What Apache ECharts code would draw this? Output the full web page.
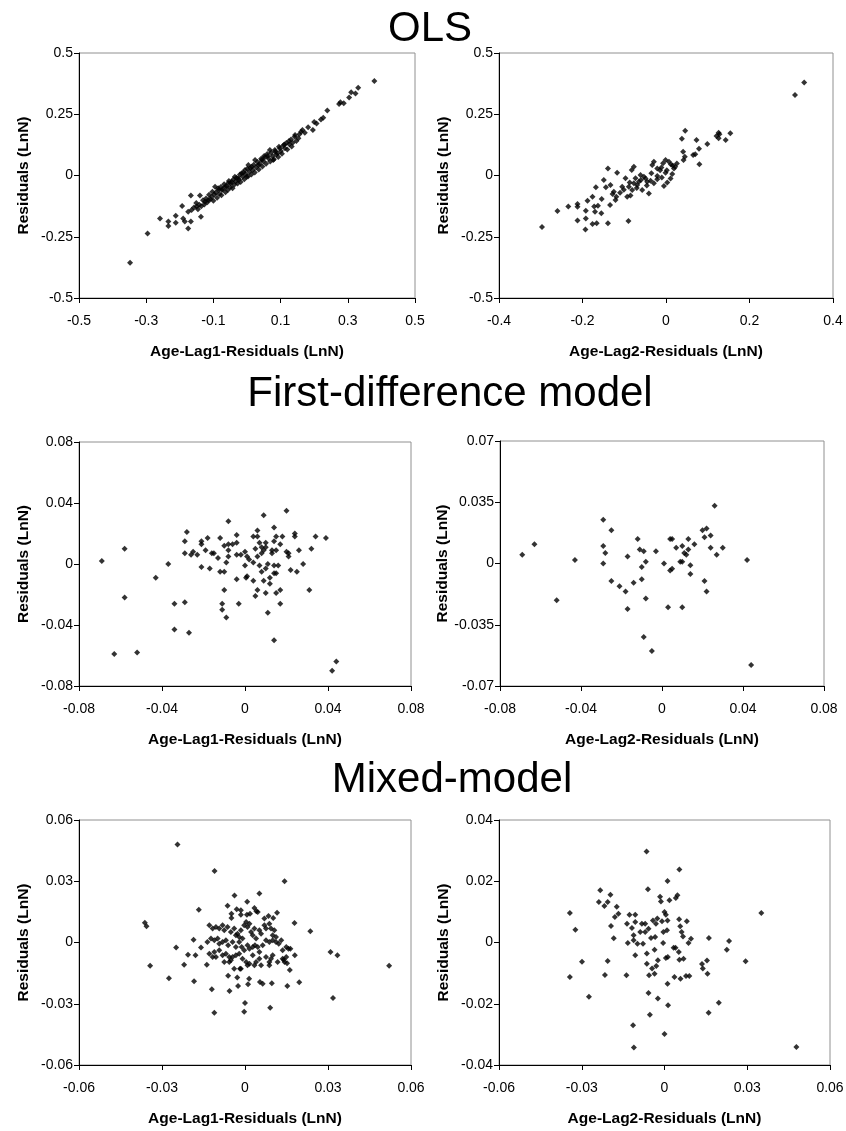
<!DOCTYPE html>
<html>
<head>
<meta charset="utf-8">
<title>Residual plots</title>
<script src="https://cdn.jsdelivr.net/npm/echarts@6/dist/echarts.min.js"></script>
<style>
  html, body { margin: 0; padding: 0; background: #fff; }
  #chart { width: 846px; height: 1131px; }
</style>
</head>
<body>
<div id="chart"></div>
<script>
var panelTitles = ["OLS", "First-difference model", "Mixed-model"];
var xNames = ["Age-Lag1-Residuals (LnN)", "Age-Lag2-Residuals (LnN)"];
var yName = "Residuals (LnN)";

// [min, max, interval] for each of the six panels
var xScales = [[-0.5, 0.5, 0.2], [-0.4, 0.4, 0.2], [-0.08, 0.08, 0.04], [-0.08, 0.08, 0.04], [-0.06, 0.06, 0.03], [-0.06, 0.06, 0.03]];
var yScales = [[-0.5, 0.5, 0.25], [-0.5, 0.5, 0.25], [-0.08, 0.08, 0.04], [-0.07, 0.07, 0.035], [-0.06, 0.06, 0.03], [-0.04, 0.04, 0.02]];

// OLS, lag 1
var olsLag1 = [
  [0.379,0.386],[0.331,0.358],[0.323,0.335],[0.310,0.340],[0.304,0.318],[0.288,0.295],[0.274,0.292],[0.278,0.299],
  [0.239,0.265],[0.227,0.236],[0.220,0.229],[0.200,0.218],[0.196,0.186],[0.165,0.186],[0.161,0.179],[0.153,0.152],
  [0.143,0.165],[0.125,0.141],[0.133,0.118],[0.111,0.127],[0.098,0.111],[0.091,0.091],[0.083,0.104],[0.078,0.063],
  [0.068,0.104],[0.062,0.080],[0.051,0.080],[0.044,0.063],[0.034,0.043],[0.024,0.063],[0.014,0.036],[0.004,0.043],
  [-0.006,0.022],[-0.001,-0.005],[-0.016,0.009],[-0.026,-0.011],[-0.036,-0.005],[-0.046,-0.025],[-0.056,-0.032],
  [-0.065,-0.046],[-0.075,-0.059],[-0.085,-0.059],[-0.095,-0.046],[-0.105,-0.087],[-0.115,-0.100],[-0.125,-0.107],
  [-0.140,-0.082],[-0.150,-0.127],[-0.167,-0.082],[-0.165,-0.141],[-0.175,-0.148],[-0.193,-0.124],[-0.190,-0.175],
  [-0.185,-0.188],[-0.175,-0.216],[-0.167,-0.188],[-0.212,-0.164],[-0.212,-0.193],[-0.234,-0.188],[-0.234,-0.206],
  [-0.137,-0.168],[-0.296,-0.237],[-0.259,-0.175],[-0.348,-0.356],
  [-0.158,-0.131],[-0.151,-0.112],[-0.146,-0.138],[-0.142,-0.119],[-0.136,-0.126],[-0.131,-0.101],[-0.127,-0.118],
  [-0.122,-0.094],[-0.118,-0.109],[-0.113,-0.079],[-0.109,-0.097],[-0.103,-0.066],[-0.100,-0.103],[-0.097,-0.078],
  [-0.093,-0.069],[-0.089,-0.091],[-0.086,-0.052],[-0.082,-0.075],[-0.078,-0.047],[-0.076,-0.081],[-0.072,-0.057],
  [-0.068,-0.036],[-0.064,-0.068],[-0.061,-0.044],[-0.057,-0.059],[-0.054,-0.022],[-0.050,-0.048],[-0.048,-0.033],
  [-0.043,-0.052],[-0.041,-0.016],[-0.038,-0.038],[-0.034,-0.024],[-0.031,-0.009],[-0.028,-0.033],[-0.024,-0.017],
  [-0.021,0.004],[-0.019,-0.027],[-0.013,-0.004],[-0.011,0.012],[-0.008,-0.015],[-0.004,0.006],[0.001,0.028],
  [0.003,-0.004],[0.007,0.015],[0.010,0.031],[0.013,0.004],[0.017,0.022],[0.020,0.044],[0.023,0.012],[0.027,0.034],
  [0.031,0.055],[0.035,0.024],[0.038,0.047],[0.042,0.068],[0.046,0.037],[0.049,0.058],[0.053,0.074],[0.057,0.048],
  [0.060,0.088],[0.064,0.069],[0.069,0.057],[0.072,0.093],[0.076,0.079],[0.080,0.066],[0.084,0.098],[0.087,0.086],
  [0.093,0.076],[0.095,0.117],[0.101,0.100],[0.104,0.089],[0.108,0.122],[0.113,0.111],[0.117,0.133],[0.120,0.106],
  [0.126,0.128],[0.131,0.147],[0.136,0.134],[0.142,0.158],[0.147,0.141],[0.156,0.168],[0.172,0.175],[0.182,0.197],
  [0.207,0.212]
];

// OLS, lag 2
var olsLag2 = [
  [0.331,0.380],[0.309,0.329],[0.154,0.172],[0.143,0.145],[0.126,0.175],[0.121,0.161],[0.126,0.152],[0.099,0.129],
  [0.079,0.109],[0.080,0.046],[0.073,0.145],[0.070,0.087],[0.065,0.084],[0.046,0.183],[0.038,0.150],[0.041,0.097],
  [0.045,0.077],[0.042,0.063],[0.022,0.036],[0.019,0.029],[0.007,0.056],[-0.001,0.063],[-0.007,0.050],[-0.011,0.033],
  [-0.021,0.029],[-0.029,0.056],[-0.033,0.043],[0.015,0.006],[0.011,-0.012],[0.003,-0.029],[-0.005,-0.043],
  [-0.001,0.011],[-0.021,-0.002],[-0.021,-0.015],[-0.029,-0.032],[-0.037,-0.021],[-0.041,-0.073],[-0.045,-0.025],
  [-0.053,-0.005],[-0.057,-0.059],[-0.061,0.002],[-0.065,-0.025],[-0.069,-0.039],[-0.073,-0.011],[-0.077,-0.032],
  [-0.081,-0.059],[-0.085,-0.082],[-0.089,-0.046],[-0.093,-0.087],[-0.097,-0.011],[-0.077,0.036],[-0.082,0.022],
  [-0.105,-0.046],[-0.110,-0.070],[-0.117,0.011],[-0.121,-0.100],[-0.119,-0.087],[-0.125,-0.066],[-0.128,-0.075],
  [-0.133,-0.039],[-0.134,-0.120],[-0.139,0.029],[-0.144,-0.048],[-0.149,-0.018],[-0.154,-0.096],[-0.155,-0.154],
  [-0.163,-0.123],[-0.168,-0.048],[-0.170,-0.148],[-0.172,-0.127],[-0.166,-0.195],[-0.176,-0.087],[-0.176,-0.198],
  [-0.188,-0.103],[-0.192,-0.144],[-0.192,-0.175],[-0.193,-0.220],[-0.212,-0.116],[-0.212,-0.128],[-0.212,-0.184],
  [-0.234,-0.127],[-0.260,-0.145],[-0.297,-0.210],[-0.139,-0.195],[-0.090,-0.186],
  [-0.060,-0.018],[-0.049,-0.012],[-0.046,-0.041],[-0.014,0.021],[-0.010,-0.008],[0.016,0.041],[0.026,0.049],
  [-0.101,-0.058],[-0.087,-0.029],[-0.070,-0.051],[-0.035,0.009],[0.002,0.021],[0.012,0.045],[0.128,0.168]
];

// First-difference model, lag 1
var fdLag1 = [
  [-0.069,0.002],[-0.058,0.010],[-0.058,-0.022],[-0.063,-0.059],[-0.052,-0.058],[-0.043,-0.009],[-0.037,0.000],
  [-0.034,-0.026],[-0.029,-0.025],[-0.034,-0.043],[-0.027,-0.045],[-0.029,0.015],[-0.028,0.021],[-0.029,0.007],
  [-0.026,0.006],[-0.025,0.008],[-0.023,0.006],[-0.021,0.015],[-0.021,0.013],[-0.021,-0.002],[-0.019,0.009],
  [-0.018,0.017],[-0.017,-0.003],[-0.016,0.007],[-0.015,0.007],[-0.013,0.004],[-0.012,0.017],[-0.012,-0.005],
  [-0.010,0.012],[-0.010,-0.005],[-0.010,-0.017],[-0.011,-0.026],[-0.011,-0.030],[-0.009,-0.035],[-0.009,0.001],
  [-0.008,0.005],[-0.008,0.028],[-0.008,0.009],[-0.008,0.013],[-0.006,0.013],[-0.004,-0.010],[-0.004,0.019],
  [-0.004,0.014],[-0.004,0.006],[-0.003,-0.026],[-0.002,0.006],[0.000,-0.001],[0.000,0.008],[0.0005,-0.009],
  [0.001,0.005],[0.001,-0.008],[0.002,0.003],[0.004,0.018],[0.004,-0.011],[0.004,0.001],[0.005,0.010],
  [0.005,-0.021],[0.006,0.022],[0.006,0.005],[0.006,-0.017],[0.006,0.018],[0.007,0.014],[0.007,-0.001],
  [0.008,0.011],[0.008,0.007],[0.008,-0.005],[0.009,0.032],[0.009,0.009],[0.009,-0.011],[0.010,0.011],
  [0.010,0.014],[0.010,-0.003],[0.010,-0.019],[0.011,0.000],[0.011,-0.032],[0.012,-0.009],[0.012,-0.013],
  [0.013,0.007],[0.013,0.009],[0.014,0.015],[0.014,-0.006],[0.014,0.024],[0.014,-0.001],[0.014,-0.050],
  [0.015,-0.019],[0.015,0.009],[0.015,-0.006],[0.015,0.018],[0.016,-0.001],[0.017,0.013],[0.017,-0.017],
  [0.017,-0.026],[0.018,0.018],[0.020,0.035],[0.020,0.008],[0.021,0.007],[0.021,0.005],[0.022,-0.004],
  [0.024,0.020],[0.024,0.018],[0.025,-0.005],[0.026,0.009],[0.028,0.000],[0.031,-0.017],[0.032,0.010],
  [0.034,0.018],[0.039,0.017],[0.042,-0.070],[0.044,-0.064]
];

// First-difference model, lag 2
var fdLag2 = [
  [-0.069,0.005],[-0.063,0.011],[-0.052,-0.021],[-0.043,0.002],[-0.029,0.025],[-0.025,0.019],[-0.029,0.010],
  [-0.028,0.006],[-0.029,0.000],[-0.025,-0.010],[-0.021,-0.013],[-0.018,-0.016],[-0.017,-0.026],[-0.017,0.004],
  [-0.014,-0.011],[-0.012,0.014],[-0.011,0.008],[-0.010,-0.009],[-0.010,-0.002],[-0.009,0.007],[-0.008,-0.020],
  [-0.008,0.001],[-0.009,-0.042],[-0.005,-0.050],[-0.003,0.007],[0.001,0.000],[0.003,-0.025],[0.004,-0.004],
  [0.004,0.014],[0.005,0.014],[0.005,-0.003],[0.007,0.009],[0.010,0.001],[0.010,0.010],[0.010,-0.025],
  [0.011,0.006],[0.012,0.005],[0.013,0.014],[0.013,0.008],[0.014,-0.001],[0.014,-0.006],[0.016,0.011],
  [0.020,0.019],[0.022,0.020],[0.021,0.015],[0.021,-0.010],[0.022,-0.016],[0.024,0.009],[0.024,0.016],
  [0.026,0.033],[0.027,0.005],[0.030,0.009],[0.042,0.002],[0.044,-0.058],[0.009,0.001]
];

// Mixed-model, lag 1
var mixedLag1 = [
  [-0.0244,0.048],[-0.011,0.035],[0.0143,0.030],[0.0052,0.024],[-0.0038,0.023],[0.0008,0.020],[-0.0167,0.016],
  [-0.0063,0.018],[-0.0030,0.0163],[-0.0015,0.0158],[-0.0049,0.0141],[-0.0049,0.012],[-0.0015,0.0136],
  [0.0007,0.0136],[0.0018,0.0141],[0.0034,0.0169],[0.0041,0.0153],[0.0046,0.0149],[0.0116,0.0146],
  [0.0085,0.0130],[0.0102,0.0120],[0.0070,0.0117],[0.0179,0.0095],[0.0236,0.0055],[-0.0362,0.0097],
  [-0.0356,0.0079],[-0.0249,-0.0024],[-0.0343,-0.0114],[-0.0275,-0.0175],[-0.0184,-0.0190],[-0.0220,-0.0109],
  [-0.0206,-0.0060],[-0.0179,-0.0063],[-0.0159,-0.0024],[-0.0186,0.0014],[-0.0138,-0.0109],[-0.0120,-0.0229],
  [-0.0111,-0.0344],[-0.0056,-0.0238],[-0.0061,-0.0163],[-0.0025,-0.0213],[-0.0028,-0.0172],[-0.0018,-0.0128],
  [0.0011,-0.0205],[0.0015,-0.0177],[0.0000,-0.0296],[-0.0003,-0.0339],[0.0054,-0.0193],[0.0064,-0.0202],
  [0.0097,-0.0200],[0.0091,-0.0319],[0.0153,-0.0213],[0.0196,-0.0195],[0.0162,-0.0135],[0.0180,-0.0063],
  [0.0152,-0.0102],[0.0140,-0.0084],[0.0318,-0.0272],[0.0309,-0.0047],[0.0334,-0.0063],[0.0521,-0.0114],
  [-0.0129,0.0084],[-0.0117,0.0068],[-0.0105,0.0076],[-0.0093,0.0068],[-0.0081,0.0084],[-0.0075,0.0060],
  [-0.0063,0.0076],[-0.0051,0.0051],[-0.0039,0.0068],[-0.0033,0.0035],[-0.0027,0.0043],[-0.0021,0.0027],
  [-0.0015,0.0060],[-0.0009,0.0019],[-0.0003,0.0084],[0.0004,0.0100],[0.0009,0.0076],[0.0016,0.0092],
  [0.0022,0.0051],[0.0028,0.0035],[0.0034,0.0068],[0.0040,0.0019],[0.0052,0.0060],[0.0058,0.0043],
  [0.0070,0.0084],[0.0076,0.0068],[0.0088,0.0092],[0.0094,0.0068],[0.0100,0.0035],[0.0106,0.0060],
  [0.0112,0.0027],[0.0122,-0.0006],[0.0131,0.0011],[0.0136,-0.0038],[0.0149,-0.0022],[0.0157,-0.0030],
  [0.0164,-0.0030],[-0.0136,0.0002],[-0.0123,0.0019],[-0.0111,0.0011],[-0.0099,0.0019],[-0.0093,-0.0006],
  [-0.0081,0.0002],[-0.0069,0.0011],[-0.0061,-0.0014],[-0.0045,0.0002],[-0.0033,-0.0022],[-0.0021,0.0002],
  [-0.0012,-0.0022],[-0.0003,-0.0038],[0.0009,-0.0014],[0.0016,-0.0030],[0.0028,-0.0022],[0.0036,-0.0014],
  [0.0046,-0.0022],[0.0052,-0.0047],[0.0064,-0.0014],[0.0076,0.0011],[0.0088,0.0002],[0.0100,0.0011],
  [0.0112,0.0002],[-0.0111,-0.0047],[-0.0105,-0.0071],[-0.0093,-0.0038],[-0.0081,-0.0063],[-0.0069,-0.0055],
  [-0.0057,-0.0071],[-0.0051,-0.0087],[-0.0045,-0.0071],[-0.0033,-0.0063],[-0.0021,-0.0055],[-0.0009,-0.0079],
  [0.0004,-0.0095],[0.0016,-0.0104],[0.0028,-0.0063],[0.0040,-0.0095],[0.0052,-0.0079],[0.0076,-0.0071],
  [0.0088,-0.0095],[0.0100,-0.0063],[0.0118,-0.0095],[0.0136,-0.0079],[0.0149,-0.0071],[-0.0129,-0.0055],
  [-0.0117,-0.0071],[-0.0075,-0.0095],[-0.0057,-0.0095],[-0.0039,-0.0128],[-0.0015,-0.0128],[0.0009,-0.0112],
  [0.0034,-0.0112],[0.0058,-0.0112],[0.0088,-0.0112],[0.0143,-0.0095],[0.0094,-0.0079]
];

// Mixed-model, lag 2
var mixedLag2 = [
  [-0.0065,0.0297],[0.0054,0.0238],[0.0011,0.0201],[0.0351,0.0096],[-0.0060,0.0174],[-0.0233,0.0171],
  [-0.0196,0.0156],[-0.0238,0.0132],[-0.0206,0.0132],[-0.0218,0.0119],[-0.0173,0.0117],[-0.0167,0.0094],
  [-0.0180,0.0083],[-0.0343,0.0096],[-0.0323,0.0042],[-0.0299,-0.0063],[-0.0343,-0.0113],[-0.0274,-0.0177],
  [-0.0206,-0.0060],[-0.0216,-0.0106],[-0.0194,0.0054],[-0.0184,0.0014],[-0.0138,-0.0107],[-0.0133,-0.0002],
  [-0.0136,0.0061],[-0.0127,0.0091],[-0.0106,0.0091],[-0.0118,0.0047],[-0.0112,0.0024],[-0.0106,0.0067],
  [-0.0112,0.0007],[-0.0098,-0.0004],[-0.0088,0.0034],[-0.0082,0.0061],[-0.0078,-0.0004],[-0.0106,-0.0042],
  [-0.0070,0.0061],[-0.0070,0.0034],[-0.0064,-0.0036],[-0.0064,-0.0069],[-0.0058,0.0045],[-0.0056,-0.0107],
  [-0.0049,0.0015],[-0.0042,0.0072],[-0.0045,-0.0085],[-0.0036,-0.0024],[-0.0036,-0.0102],[-0.0034,0.0018],
  [-0.0031,0.0061],[-0.0026,0.0078],[-0.0024,-0.0058],[-0.0030,-0.0077],[-0.0016,0.0149],[-0.0013,0.0134],
  [-0.0009,0.0069],[-0.0005,-0.0002],[-0.0004,0.0034],[0.0000,0.0100],[0.0005,0.0091],[0.0009,0.0040],
  [0.0011,0.0072],[0.0012,-0.0047],[0.0011,-0.0135],[0.0013,-0.0205],[0.0018,0.0138],[0.0033,-0.0017],
  [0.0040,-0.0017],[0.0041,0.0145],[0.0047,0.0154],[0.0052,-0.0031],[0.0053,0.0076],[0.0057,0.0053],
  [0.0054,-0.0056],[0.0062,0.0034],[0.0067,0.0020],[0.0069,-0.0053],[0.0036,-0.0113],[0.0058,-0.0118],
  [0.0078,-0.0109],[0.0090,-0.0109],[0.0081,0.0069],[0.0087,-0.0002],[0.0096,0.0012],[0.0136,-0.0070],
  [0.0139,-0.0085],[0.0154,-0.0059],[0.0156,-0.0102],[0.0161,0.0015],[0.0160,-0.0229],[0.0197,-0.0197],
  [0.0226,-0.0024],[0.0234,0.0005],[0.0294,-0.0061],[0.0478,-0.0341],[-0.0058,-0.0165],[-0.0024,-0.0183],
  [-0.0053,-0.0236],[-0.0114,-0.0270],[0.0000,-0.0299],[-0.0111,-0.0343],[0.0005,-0.0051]
];

var seriesData = [olsLag1, olsLag2, fdLag1, fdLag2, mixedLag1, mixedLag2];

var fontFamily = "'Liberation Sans', Arial, sans-serif";

// plot rectangles
var gridBoxes = [
  { left: 79, top: 53, width: 336, height: 245 },
  { left: 499, top: 53, width: 334, height: 245 },
  { left: 79, top: 442, width: 332, height: 244 },
  { left: 500, top: 441, width: 324, height: 245 },
  { left: 79, top: 820, width: 332, height: 245 },
  { left: 499, top: 820, width: 331, height: 245 }
];

// title centres
var titleSpots = [[430, 29], [450, 394], [452, 780]];

function tickText(v) {
  var r = Math.round(v * 10000) / 10000;
  return r === 0 ? "0" : String(r);
}

function buildOption() {
  var grid = [], xAxis = [], yAxis = [], series = [], graphic = [];
  for (var i = 0; i < 6; i++) {
    var b = gridBoxes[i];
    grid.push({
      left: b.left, top: b.top, width: b.width, height: b.height,
      outerBoundsMode: "none",
      show: true, borderColor: "#909090", borderWidth: 1, backgroundColor: "transparent"
    });
    xAxis.push({
      type: "value", gridIndex: i,
      min: xScales[i][0], max: xScales[i][1], interval: xScales[i][2],
      name: xNames[i % 2], nameLocation: "middle", nameGap: 46,
      nameTextStyle: { fontFamily: fontFamily, fontWeight: "bold", fontSize: 15.5, color: "#000" },
      axisLine: { onZero: false, lineStyle: { color: "#000", width: 1 } },
      axisTick: { show: true, inside: false, length: 5, lineStyle: { color: "#000" } },
      axisLabel: { margin: 16, fontFamily: fontFamily, fontSize: 14, color: "#000",
        showMinLabel: true, showMaxLabel: true, hideOverlap: false, formatter: tickText },
      splitLine: { show: false }
    });
    yAxis.push({
      type: "value", gridIndex: i,
      min: yScales[i][0], max: yScales[i][1], interval: yScales[i][2],
      name: yName, nameLocation: "middle", nameGap: 47,
      nameTextStyle: { fontFamily: fontFamily, fontWeight: "bold", fontSize: 15.5, color: "#000" },
      axisLine: { onZero: false, lineStyle: { color: "#000", width: 1 } },
      axisTick: { show: true, inside: false, length: 5, lineStyle: { color: "#000" } },
      axisLabel: { margin: 6, fontFamily: fontFamily, fontSize: 14, color: "#000",
        showMinLabel: true, showMaxLabel: true, hideOverlap: false, formatter: tickText },
      splitLine: { show: false }
    });
    series.push({
      type: "scatter", xAxisIndex: i, yAxisIndex: i,
      symbol: "diamond", symbolSize: 6,
      itemStyle: { color: "#000" },
      silent: true,
      data: seriesData[i]
    });
  }
  for (var t = 0; t < panelTitles.length; t++) {
    graphic.push({
      type: "text", x: titleSpots[t][0], y: titleSpots[t][1],
      style: {
        text: panelTitles[t], fill: "#000",
        fontFamily: fontFamily, fontSize: 42,
        align: "center", verticalAlign: "middle"
      }
    });
  }
  return {
    animation: false,
    backgroundColor: "#fff",
    grid: grid, xAxis: xAxis, yAxis: yAxis, series: series, graphic: graphic
  };
}

var myChart = echarts.init(document.getElementById("chart"));
myChart.setOption(buildOption());
</script>
</body>
</html>
